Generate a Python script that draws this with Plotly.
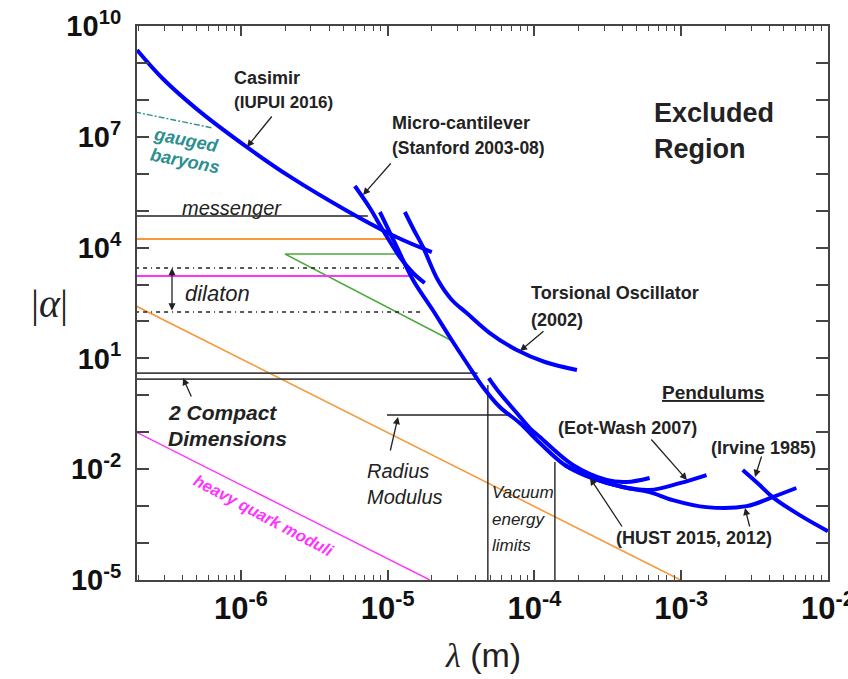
import plotly.graph_objects as go

# ---------------- data (lambda in m, |alpha|) ----------------
casimir_lam = [1.96e-7, 2.94e-7, 5.01e-7, 1.10e-6, 2.16e-6, 5.27e-6, 1.156e-5, 2.0e-5]
casimir_alpha = [2.24e9, 3.72e8, 5.62e7, 5.25e6, 8.32e5, 1.0e5, 1.905e4, 7.59e3]

cantilever_lam = [5.98e-6, 7.57e-6, 9.27e-6, 1.21e-5, 1.49e-5, 1.79e-5]
cantilever_alpha = [4.65e5, 1.18e5, 3.0e4, 5.56e3, 2.05e3, 1.1e3]

torsion_lam = [1.31e-5, 1.51e-5, 1.74e-5, 2.2e-5, 2.74e-5, 3.46e-5, 4.97e-5, 7.59e-5, 1.18e-4, 1.95e-4]
torsion_alpha = [9.2e4, 3.0e4, 1.04e4, 1.32e3, 381, 169, 48.6, 16.9, 7.98, 4.84]

hust15_lam = [8.85e-6, 1.14e-5, 1.49e-5, 2.03e-5, 2.65e-5, 3.46e-5, 4.46e-5, 5.81e-5, 7.95e-5, 1.09e-4,
              1.61e-4, 2.38e-4, 4.0e-4, 6.1e-4, 8.77e-4, 1.49e-3, 2.8e-3, 4.2e-3, 6.1e-3]
hust15_alpha = [9.2e4, 1.17e4, 1.32e3, 204, 37.9, 7.5, 1.68, 0.482, 0.178, 0.051,
                0.013, 6.1e-3, 3.3e-3, 2.4e-3, 1.46e-3, 9.4e-4, 1.0e-3, 1.76e-3, 3.1e-3]

hust12_lam = [4.89e-5, 5.81e-5, 7.59e-5, 9.3e-5, 1.09e-4, 1.83e-4, 3.11e-4, 4.26e-4, 6.1e-4]
hust12_alpha = [2.94, 1.15, 0.332, 0.13, 0.0743, 0.013, 5.1e-3, 4.5e-3, 5.8e-3]

eotwash_lam = [1.61e-4, 2.38e-4, 4.0e-4, 6.1e-4, 9.8e-4, 1.49e-3]
eotwash_alpha = [0.013, 6.1e-3, 3.3e-3, 2.73e-3, 4.2e-3, 6.95e-3]

irvine_lam = [2.63e-3, 3.43e-3, 4.2e-3, 6.43e-3, 1.0e-2]
irvine_alpha = [9.5e-3, 3.72e-3, 1.76e-3, 5.7e-4, 2.1e-4]

baryon_lam = [1.9e-7, 6.44e-7]
baryon_alpha = [4.7e7, 1.73e7]

messenger_lam = [1.9e-7, 7.33e-6]
messenger_alpha = [7.2e4, 7.2e4]

orange_h_lam = [1.9e-7, 9.9e-6]
orange_h_alpha = [1.71e4, 1.71e4]

green_lam = [2.7e-5, 2.0e-6, 1.17e-5]
green_alpha = [31, 6.7e3, 6.7e3]

dilaton_top_lam = [1.9e-7, 1.35e-5]
dilaton_top_alpha = [2.8e3, 2.8e3]
dilaton_bot_lam = [1.9e-7, 1.74e-5]
dilaton_bot_alpha = [180, 180]

magenta_h_lam = [1.9e-7, 1.49e-5]
magenta_h_alpha = [1.7e3, 1.7e3]

compact1_lam = [1.9e-7, 4.1e-5]
compact1_alpha = [4.0, 4.0]
compact2_lam = [1.9e-7, 4.1e-5]
compact2_alpha = [2.76, 2.76]

radius_lam = [9.9e-6, 6.8e-5]
radius_alpha = [0.293, 0.293]

vac1_lam = [4.82e-5, 4.82e-5]
vac1_alpha = [1.9, 1e-5]
vac2_lam = [1.38e-4, 1.38e-4]
vac2_alpha = [0.0156, 1e-5]

orange_d_lam = [1.9e-7, 9.9e-4]
orange_d_alpha = [270, 1e-5]

heavy_lam = [1.9e-7, 1.94e-5]
heavy_alpha = [0.105, 1e-5]

x_tickvals = [1e-6, 1e-5, 1e-4, 1e-3, 1e-2]
x_ticktext = ["10<sup>-6</sup>", "10<sup>-5</sup>", "10<sup>-4</sup>", "10<sup>-3</sup>", "10<sup>-2</sup>"]
y_tickvals = [1e-5, 1e-2, 1e1, 1e4, 1e7, 1e10]
y_ticktext = ["10<sup>-5</sup>", "10<sup>-2</sup>", "10<sup>1</sup>", "10<sup>4</sup>", "10<sup>7</sup>", "10<sup>10</sup>"]

# ---------------- figure ----------------
BLUE = "#0000ff"
DARK = "#222222"
ORANGE = "#f59a3c"
MAGENTA = "#ff33ff"
GREEN = "#4caa3c"
TEAL = "#2c8f8f"

fig = go.Figure()

def line(xs, ys, color, width, dash="solid", shape="linear"):
    fig.add_trace(go.Scatter(x=xs, y=ys, mode="lines", showlegend=False, hoverinfo="skip",
                             line=dict(color=color, width=width, dash=dash, shape=shape)))

line(orange_d_lam, orange_d_alpha, ORANGE, 1.6)
line(heavy_lam, heavy_alpha, MAGENTA, 1.4)
line(messenger_lam, messenger_alpha, DARK, 1.5)
line(orange_h_lam, orange_h_alpha, ORANGE, 2)
line(green_lam, green_alpha, GREEN, 1.5)
line(dilaton_top_lam, dilaton_top_alpha, DARK, 1.6, dash="4px,4px,4px,4px,1px,4px")
line(dilaton_bot_lam, dilaton_bot_alpha, DARK, 1.6, dash="4px,4px,4px,4px,1px,4px")
line(magenta_h_lam, magenta_h_alpha, MAGENTA, 2)
line(compact1_lam, compact1_alpha, "#444444", 1.8)
line(compact2_lam, compact2_alpha, "#444444", 1.8)
line(radius_lam, radius_alpha, DARK, 1.4)
line(vac1_lam, vac1_alpha, DARK, 1.4)
line(vac2_lam, vac2_alpha, DARK, 1.4)
line(baryon_lam, baryon_alpha, TEAL, 1.4, dash="6px,2px,2px,2px")

for xs, ys in [(casimir_lam, casimir_alpha), (cantilever_lam, cantilever_alpha),
               (torsion_lam, torsion_alpha), (hust15_lam, hust15_alpha),
               (hust12_lam, hust12_alpha), (eotwash_lam, eotwash_alpha),
               (irvine_lam, irvine_alpha)]:
    line(xs, ys, BLUE, 4, shape="spline")

# plot area in pixels: left 137, right 828, top 26, bottom 580
L, R, T, B = 137, 828, 26, 580
W, H = 848, 679

def P(px, py):
    return (px - L) / (R - L), (B - py) / (B - T)

anns = []

def txt(s, px, py, size=18, bold=True, italic=False, color=DARK, angle=0, xanchor="center", family="Liberation Sans"):
    x, y = P(px, py)
    if italic:
        s = "<i>" + s + "</i>"
    anns.append(dict(x=x, y=y, xref="paper", yref="paper", text=s, showarrow=False,
                     xanchor=xanchor, yanchor="middle", textangle=angle,
                     font=dict(size=size, color=color, family=family, weight="bold" if bold else "normal")))

def arrow(hx, hy, tx, ty, both=False):
    x, y = P(hx, hy)
    d = dict(x=x, y=y, xref="paper", yref="paper", text="", showarrow=True,
             ax=tx - hx, ay=ty - hy, arrowhead=2, arrowsize=1.1, arrowwidth=1.3,
             arrowcolor=DARK, standoff=0, startstandoff=0)
    if both:
        d.update(arrowside="end+start", startarrowhead=2, startarrowsize=1.1)
    anns.append(d)

txt("Casimir", 232, 78, xanchor="left")
txt("(IUPUI 2016)", 232, 103, size=17, xanchor="left")
arrow(247, 147, 273, 115)

txt("Micro-cantilever", 390, 123, xanchor="left")
txt("(Stanford 2003-08)", 390, 148, size=17.5, xanchor="left")
arrow(363, 195, 392, 162)

txt("Excluded", 652, 113, size=27, xanchor="left")
txt("Region", 652, 149, size=27, xanchor="left")

txt("gauged", 186, 140, size=18, italic=True, color=TEAL, angle=11)
txt("baryons", 185, 161, size=18, italic=True, color=TEAL, angle=11)

txt("messenger", 232, 208, size=20, bold=False, italic=True)
txt("dilaton", 217, 293, size=22, bold=False, italic=True)
arrow(172, 268, 172, 312, both=True)

txt("Torsional Oscillator", 529, 293, xanchor="left")
txt("(2002)", 529, 320, xanchor="left")
arrow(520, 351, 545, 330)

txt("<u>Pendulums</u>", 660, 392, size=19, xanchor="left")
txt("(Eot-Wash 2007)", 556, 428, xanchor="left")
arrow(687, 480, 650, 438)
txt("(Irvine 1985)", 709, 448, xanchor="left")
arrow(755, 477, 762, 455)
txt("(HUST 2015, 2012)", 614, 538, xanchor="left")
arrow(590, 478, 623, 528)
arrow(745, 508, 750, 528)

txt("2 Compact", 166, 413, size=21, italic=True, xanchor="left")
txt("Dimensions", 166, 439, size=21, italic=True, xanchor="left")
arrow(183, 378, 192, 398)

txt("Radius", 365, 471, size=20, bold=False, italic=True, xanchor="left")
txt("Modulus", 365, 497, size=20, bold=False, italic=True, xanchor="left")
arrow(398, 417, 390, 452)

txt("Vacuum", 490, 492, size=17, bold=False, italic=True, xanchor="left")
txt("energy", 490, 519, size=17, bold=False, italic=True, xanchor="left")
txt("limits", 490, 545, size=17, bold=False, italic=True, xanchor="left")

txt("heavy quark moduli", 263, 515, size=16.5, italic=True, color=MAGENTA, angle=28)

# axis titles
txt('<span style="font-family:Liberation Serif"><i>λ</i></span> (m)', 483, 655, size=34, bold=False)
txt('|<i>α</i>|', 49, 303, size=40, bold=False, family="Liberation Serif")

AX = "#444444"
fig.update_layout(
    width=W, height=H,
    margin=dict(l=L, r=W - R, t=T, b=H - B, autoexpand=False),
    paper_bgcolor="white", plot_bgcolor="white",
    showlegend=False,
    annotations=anns,
    xaxis=dict(type="log", range=[-6.708, -1.999], showgrid=False, zeroline=False, automargin=False,
               showline=True, linecolor=AX, linewidth=2, mirror="allticks",
               ticks="inside", ticklen=10, tickwidth=1.5, tickcolor=AX,
               tickvals=x_tickvals, ticktext=x_ticktext, ticklabeloverflow="allow",
               tickfont=dict(family="Liberation Sans", size=31, color="#111", weight="bold"),
               minor=dict(dtick="D1", ticks="inside", ticklen=5, tickwidth=1.2, tickcolor=AX, showgrid=False)),
    yaxis=dict(type="log", range=[-5, 10], showgrid=False, zeroline=False, automargin=False,
               showline=True, linecolor=AX, linewidth=2, mirror="allticks",
               ticks="inside", ticklen=12, tickwidth=1.5, tickcolor=AX,
               tickvals=y_tickvals, ticktext=y_ticktext, ticklabelstandoff=8, ticklabeloverflow="allow",
               tickfont=dict(family="Liberation Sans", size=29, color="#111", weight="bold"),
               minor=dict(dtick=1, tick0=0, ticks="inside", ticklen=12, tickwidth=1.5, tickcolor=AX, showgrid=False)),
)

fig.write_html("out.html", config={"displayModeBar": False},
               post_script="document.body.style.margin='0';document.body.style.overflow='hidden';")
